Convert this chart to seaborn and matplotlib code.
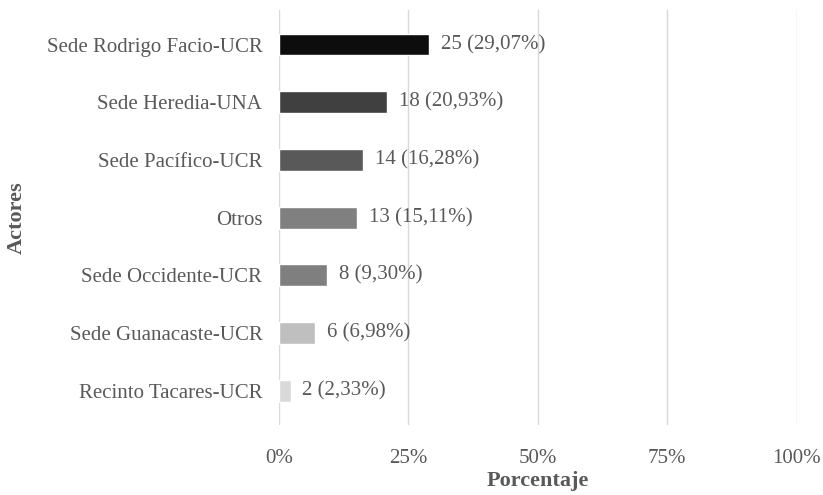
import numpy as np
import pandas as pd
import matplotlib.pyplot as plt
import seaborn as sns

actores = ['Sede Rodrigo Facio-UCR', 'Sede Heredia-UNA', 'Sede Pacífico-UCR', 'Otros',
           'Sede Occidente-UCR', 'Sede Guanacaste-UCR', 'Recinto Tacares-UCR']
conteos = [25, 18, 14, 13, 8, 6, 2]
porcentajes = [29.07, 20.93, 16.28, 15.11, 9.30, 6.98, 2.33]
colores = ['#0d0d0d', '#404040', '#595959', '#808080', '#7f7f7f', '#bfbfbf', '#d9d9d9']

df = pd.DataFrame({'Actores': actores, 'Porcentaje': porcentajes, 'n': conteos})

sns.set_theme(style='white')
plt.rcParams['font.family'] = ['Liberation Serif', 'DejaVu Serif']
txt = '#595959'

fig = plt.figure(figsize=(8.23, 4.95), dpi=100)
ax = fig.add_axes([0.339, 0.141, 0.629, 0.839])

sns.barplot(data=df, x='Porcentaje', y='Actores', hue='Actores', palette=colores,
            order=actores, legend=False, width=0.38, ax=ax, zorder=3)

ax.set_xlim(0, 100)
ax.set_ylim(6.6, -0.6)
ax.set_xticks([0, 25, 50, 75, 100])
ax.set_xticklabels([f'{t}%' for t in [0, 25, 50, 75, 100]])
ax.grid(axis='x', color='#d9d9d9', linewidth=1, zorder=0)
ax.grid(axis='y', visible=False)
for s in ax.spines.values():
    s.set_visible(False)
ax.tick_params(axis='both', length=0, labelsize=15, colors=txt)
ax.tick_params(axis='y', pad=12)
ax.tick_params(axis='x', pad=17)

for i, (n, p) in enumerate(zip(conteos, porcentajes)):
    lab = f'{n} ({p:.2f}%)'.replace('.', ',')
    ax.text(p + 2.2, i, lab, va='center', ha='left', fontsize=15, color=txt)

ax.set_xlabel('Porcentaje', fontsize=16, fontweight='bold', color=txt, labelpad=2)
ax.set_ylabel('Actores', fontsize=16, fontweight='bold', color=txt, labelpad=14)

fig.savefig('out.png', dpi=100)
